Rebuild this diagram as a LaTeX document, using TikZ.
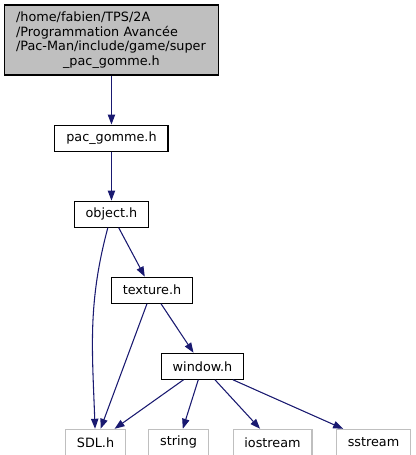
\documentclass[tikz,border=0pt]{standalone}
\usepackage{fontspec}
\setmainfont{DejaVu Sans}
\usetikzlibrary{arrows.meta}
\usetikzlibrary{positioning}
\definecolor{edgeblue}{RGB}{25,25,112}
\definecolor{leafgray}{RGB}{191,191,191}
\tikzstyle{file}=[draw=black, line width=0.8pt, inner xsep=8.5pt, inner ysep=0pt,
minimum height=19.5pt, anchor=north, font=\fontsize{9.6}{11}\selectfont, text=black]
\tikzstyle{root}=[file, fill=leafgray, minimum width=160pt, minimum height=52.5pt,
text width=143pt, anchor=center]
\tikzstyle{leaf}=[file, draw=leafgray]
\tikzstyle{dep}=[-{Triangle[length=7.5pt, width=5.5pt]}, draw=edgeblue, line width=0.8pt]

\begin{document}
\begin{tikzpicture}[node distance=36.75pt]
    \useasboundingbox (0,0) rectangle (312pt,-341.25pt);

    \node[root] (top) at (83.6pt,-30pt) {\raggedright \mbox{/home/fabien/TPS/2A}\\
        \mbox{/Programmation Avancée}\\ \mbox{/Pac-Man/include/game/super}\\
        \makebox[\linewidth]{\_pac\_gomme.h}};

    \node[file, below=of top] (pacgomme) {pac\_gomme.h};
    \draw[dep] (top) -- (pacgomme);

    \node[file, below=of pacgomme] (object) {object.h};
    \draw[dep] (pacgomme) -- (object);

    \node[file, below=of object, xshift=30.4pt] (texture) {texture.h};
    \draw[dep] (object) -- (texture);

    \node[file, below=of texture, xshift=37.9pt] (window) {window.h};
    \draw[dep] (texture) -- (window);

    % system headers
    \node[leaf, below=of window, xshift=-80.25pt] (sdl) {SDL.h};
    \node[leaf, below=of window, xshift=-18pt] (string) {string};
    \node[leaf, below=of window, xshift=52.5pt] (iostream) {iostream};
    \node[leaf, below=of window, xshift=128.25pt] (sstream) {sstream};

    \draw[dep] (object) to[out=-105, in=92] (sdl);
    \draw[dep] (texture) -- (sdl);
    \draw[dep] (window) -- (sdl);
    \draw[dep] (window) -- (string);
    \draw[dep] (window) -- (iostream);
    \draw[dep] (window) -- (sstream);
\end{tikzpicture}
\end{document}
